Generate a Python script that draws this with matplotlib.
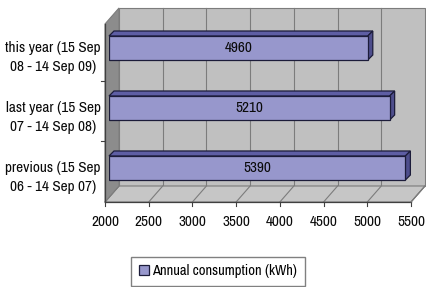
import matplotlib
matplotlib.use("Agg")
import matplotlib.pyplot as plt
from matplotlib.patches import Polygon
from matplotlib.lines import Line2D
from matplotlib.transforms import IdentityTransform, ScaledTranslation

categories = [
    "previous (15 Sep\n06 - 14 Sep 07)",
    "last year (15 Sep\n07 - 14 Sep 08)",
    "this year (15 Sep\n08 - 14 Sep 09)",
]
consumption = [5390, 5210, 4960]
x_ticks = [2000, 2500, 3000, 3500, 4000, 4500, 5000, 5500]
series_name = "Annual consumption (kWh)"

plt.rcParams["font.family"] = ["Archivo Narrow", "DejaVu Sans"]
plt.rcParams["font.size"] = 11

# pixel offsets of the pseudo 3d planes relative to the bar plane
BACK = (10, 13)
FRONT = (-4, -3)
DEPTH = (5, 5)

WALL = "#c0c0c0"
FLOOR = "#c6c6c6"
SIDE = "#8c8c8c"
EDGE = "#7c7c7c"
BAR_FACE = "#9797cc"
BAR_TOP = "#5e5ea4"
BAR_SIDE = "#4e4e8c"
BAR_EDGE = "#1c1c3a"
TEXT = "#0a0a0a"

fig = plt.figure(figsize=(4.26, 2.87), dpi=100)
ax = fig.add_axes([109 / 426, 1 - 199 / 287, 306 / 426, 178 / 287])
ax.set_xlim(x_ticks[0], x_ticks[-1])
ax.set_ylim(-0.517, 2.45)
ax.set_zorder(5)
ax.patch.set_visible(False)
for s in ax.spines.values():
    s.set_visible(False)

ident = IdentityTransform()


def px(x, y, off=(0, 0)):
    X, Y = ax.transData.transform((x, y))
    return (X + off[0], Y + off[1])


def shape(pts, **kw):
    fig.add_artist(Polygon(pts, closed=True, transform=ident, **kw))


def line(p0, p1, **kw):
    fig.add_artist(Line2D([p0[0], p1[0]], [p0[1], p1[1]], transform=ident, **kw))


x0, x1 = ax.get_xlim()
y0, y1 = ax.get_ylim()

# back wall
shape([px(x0, y0, BACK), px(x1, y0, BACK), px(x1, y1, BACK), px(x0, y1, BACK)],
      facecolor=WALL, edgecolor=EDGE, lw=0.8, zorder=1)
# floor
shape([px(x0, y0, FRONT), px(x1, y0, FRONT), px(x1, y0, BACK), px(x0, y0, BACK)],
      facecolor=FLOOR, edgecolor=EDGE, lw=0.8, zorder=1.1)
# left side wall
shape([px(x0, y0, FRONT), px(x0, y0, BACK), px(x0, y1, BACK), px(x0, y1, FRONT)],
      facecolor=SIDE, edgecolor=EDGE, lw=0.8, zorder=1.2)

# gridlines on wall and floor, tick marks on the front edge
for t in x_ticks:
    if x0 < t < x1:
        line(px(t, y0, BACK), px(t, y1, BACK), color=EDGE, lw=0.8, zorder=1.05)
    line(px(t, y0, FRONT), px(t, y0, BACK), color=EDGE, lw=0.8, zorder=1.15)
    fx, fy = px(t, y0, FRONT)
    line((fx, fy), (fx, fy - 4), color="#404040", lw=0.8, zorder=1.3)

line(px(x0, y0, FRONT), px(x1, y0, FRONT), color="#404040", lw=0.9, zorder=1.3)
line(px(x0, y0, FRONT), px(x0, y1, FRONT), color="#404040", lw=0.9, zorder=1.3)
line(px(x1, y0, FRONT), px(x1, y0, BACK), color=EDGE, lw=0.8, zorder=1.3)
for b in [0.5, 1.5]:
    fx, fy = px(x0, b, FRONT)
    line((fx, fy), (fx - 4, fy), color="#404040", lw=0.8, zorder=1.3)

# bars
ypos = list(range(len(categories)))
h = 0.4
widths = [v - x0 for v in consumption]
bars = ax.barh(ypos, widths, left=x0, height=h, color=BAR_FACE,
               edgecolor=BAR_EDGE, linewidth=0.9, label=series_name, zorder=3)
for y, v in zip(ypos, consumption):
    top = [px(x0, y + h / 2), px(v, y + h / 2), px(v, y + h / 2, DEPTH), px(x0, y + h / 2, DEPTH)]
    side = [px(v, y - h / 2), px(v, y + h / 2), px(v, y + h / 2, DEPTH), px(v, y - h / 2, DEPTH)]
    ax.add_patch(Polygon(top, closed=True, transform=ident, facecolor=BAR_TOP,
                         edgecolor=BAR_EDGE, lw=0.9, zorder=2, clip_on=False))
    ax.add_patch(Polygon(side, closed=True, transform=ident, facecolor=BAR_SIDE,
                         edgecolor=BAR_EDGE, lw=0.9, zorder=2, clip_on=False))
    ax.text((x0 + v) / 2, y, str(v), ha="center", va="center", fontsize=11,
            color=TEXT, zorder=4)

# axis labels on the front plane
ax.set_xticks(x_ticks)
ax.set_yticks(ypos)
ax.set_yticklabels(categories, multialignment="center", linespacing=1.45)
ax.tick_params(axis="both", length=0, labelsize=11, colors=TEXT)
ax.tick_params(axis="x", pad=9)
ax.tick_params(axis="y", pad=6)
shift_x = ScaledTranslation(FRONT[0] / 100, FRONT[1] / 100, fig.dpi_scale_trans)
shift_y = ScaledTranslation(0, -6 / 100, fig.dpi_scale_trans)
for lab in ax.get_xticklabels():
    lab.set_transform(lab.get_transform() + shift_x)
for lab in ax.get_yticklabels():
    lab.set_transform(lab.get_transform() + shift_y)

fig.legend(handles=[bars], labels=[series_name], loc="upper center",
           bbox_to_anchor=(218 / 426, 1 - 257 / 287), fancybox=False,
           edgecolor="#808080", framealpha=1, fontsize=10.5, handlelength=0.7,
           handleheight=0.7, handletextpad=0.25, borderpad=0.5, borderaxespad=0)

fig.savefig("out.png", dpi=100)
